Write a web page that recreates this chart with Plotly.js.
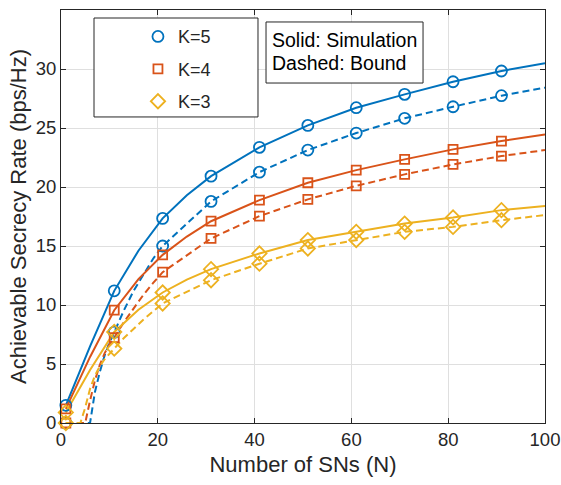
<!DOCTYPE html>
<html>
<head>
<meta charset="utf-8">
<script src="https://cdn.plot.ly/plotly-3.0.1.min.js"></script>
<style>
html, body { margin: 0; padding: 0; background: #ffffff; }
#chart { width: 561px; height: 485px; }
</style>
</head>
<body>
<div id="chart"></div>
<script>
// Simulation curves (solid)
const xSim = [1, 6, 11, 16, 21, 26, 31, 41, 51, 61, 71, 81, 91, 100];
const simK5 = [1.5, 6.5, 11.2, 14.6, 17.34, 19.3, 20.92, 23.36, 25.22, 26.72, 27.85, 28.92, 29.83, 30.48];
const simK4 = [1.2, 5.6, 9.56, 12.2, 14.25, 15.8, 17.1, 18.89, 20.36, 21.43, 22.34, 23.19, 23.89, 24.46];
const simK3 = [0.9, 4.5, 7.72, 9.6, 11.06, 12.15, 13.04, 14.37, 15.5, 16.2, 16.9, 17.42, 18.04, 18.38];

// Bound curves (dashed)
const xBound = [1, 2, 3, 4, 5, 6, 7, 8, 9, 10, 11, 13, 15, 17, 19, 21, 31, 41, 51, 61, 71, 81, 91, 100];
const boundK5 = [0, 0, 0, 0, 0, 0, 2.6, 4.3, 5.7, 6.8, 7.7, 9.55, 11.2, 12.6, 13.9, 15.0, 18.78, 21.26, 23.13, 24.57, 25.82, 26.8, 27.74, 28.42];
const boundK4 = [0, 0, 0, 0, 0, 1.9, 3.6, 4.9, 5.9, 6.65, 7.24, 8.55, 9.75, 10.85, 11.85, 12.78, 15.64, 17.53, 18.95, 20.1, 21.07, 21.91, 22.62, 23.13];
const boundK3 = [0, 0, 0, 0, 1.3, 2.9, 4.0, 4.8, 5.4, 5.9, 6.31, 7.2, 8.0, 8.75, 9.45, 10.13, 12.1, 13.5, 14.79, 15.5, 16.2, 16.62, 17.19, 17.62];

// Marker positions (N values)
const xMarks = [1, 11, 21, 31, 41, 51, 61, 71, 81, 91];

const seriesNames = ['K=5', 'K=4', 'K=3'];
const noteLines = ['Solid: Simulation', 'Dashed: Bound'];
const colors = ['#0072BD', '#D95319', '#EDB120'];
const symbols = ['circle-open', 'square-open', 'diamond-open'];
const symSizes = [11, 9, 11];

function pick(xs, ys) {
  const ox = [], oy = [];
  xs.forEach((x, i) => { if (xMarks.includes(x)) { ox.push(x); oy.push(ys[i]); } });
  return {x: ox, y: oy};
}

const sims = [simK5, simK4, simK3];
const bounds = [boundK5, boundK4, boundK3];
const traces = [];

for (let k = 0; k < 3; k++) {
  traces.push({x: xSim, y: sims[k], mode: 'lines', type: 'scatter', showlegend: false,
    line: {color: colors[k], width: 2}, hoverinfo: 'skip'});
  traces.push({x: xBound, y: bounds[k], mode: 'lines', type: 'scatter', showlegend: false,
    line: {color: colors[k], width: 2, dash: '7px,4px'}, hoverinfo: 'skip'});
}
for (let k = 0; k < 3; k++) {
  const ms = pick(xSim, sims[k]);
  traces.push({x: ms.x, y: ms.y, mode: 'markers', type: 'scatter', name: seriesNames[k],
    legendgroup: 'g' + k, cliponaxis: false,
    marker: {symbol: symbols[k], size: symSizes[k], color: colors[k], line: {width: 1.8, color: colors[k]}}});
  const mb = pick(xBound, bounds[k]);
  traces.push({x: mb.x, y: mb.y, mode: 'markers', type: 'scatter', showlegend: false,
    cliponaxis: false,
    marker: {symbol: symbols[k], size: symSizes[k], color: colors[k], line: {width: 1.8, color: colors[k]}}});
}

const axisCommon = {
  showline: true, linecolor: '#262626', linewidth: 1, mirror: 'ticks',
  ticks: 'inside', ticklen: 5, tickcolor: '#262626', tickwidth: 1,
  showgrid: true, gridcolor: '#dfdfdf', gridwidth: 1, zeroline: false,
  tickfont: {family: 'Liberation Sans, Arial, sans-serif', size: 18.5, color: '#262626'}
};

const layout = {
  width: 561, height: 485,
  margin: {l: 61, r: 16, t: 10, b: 62},
  paper_bgcolor: '#ffffff', plot_bgcolor: '#ffffff',
  font: {family: 'Liberation Sans, Arial, sans-serif', color: '#262626'},
  xaxis: Object.assign({}, axisCommon, {
    range: [0, 100], dtick: 20, tick0: 0,
    title: {text: 'Number of SNs (N)', font: {size: 22, color: '#262626'}, standoff: 7}
  }),
  yaxis: Object.assign({}, axisCommon, {
    range: [0, 35], dtick: 5, tick0: 0,
    title: {text: 'Achievable Secrecy Rate (bps/Hz)', font: {size: 22, color: '#262626'}, standoff: 3}
  }),
  showlegend: true,
  legend: {
    x: 0.159, y: 0.980, xanchor: 'left', yanchor: 'top',
    bgcolor: 'rgba(0,0,0,0)', borderwidth: 0,
    font: {size: 18, color: '#262626'}, tracegroupgap: 6
  },
  shapes: [{
    type: 'rect', xref: 'paper', yref: 'paper', layer: 'above',
    x0: 0.0682, x1: 0.407, y0: 0.741, y1: 0.9806,
    line: {color: '#262626', width: 1}, fillcolor: '#ffffff'
  }, {
    type: 'rect', xref: 'paper', yref: 'paper', layer: 'above',
    x0: 0.4236, x1: 0.748, y0: 0.8232, y1: 0.971,
    line: {color: '#262626', width: 1}, fillcolor: '#ffffff'
  }],
  annotations: [{
    xref: 'paper', yref: 'paper', x: 0.434, y: 0.9274, xanchor: 'left', yanchor: 'middle',
    text: noteLines[0], showarrow: false, align: 'left', borderpad: 0,
    font: {size: 19.5, color: '#000000'}
  }, {
    xref: 'paper', yref: 'paper', x: 0.434, y: 0.8717, xanchor: 'left', yanchor: 'middle',
    text: noteLines[1], showarrow: false, align: 'left', borderpad: 0,
    font: {size: 19.5, color: '#000000'}
  }]
};

Plotly.newPlot('chart', traces, layout, {displayModeBar: false, staticPlot: true});
</script>
</body>
</html>
